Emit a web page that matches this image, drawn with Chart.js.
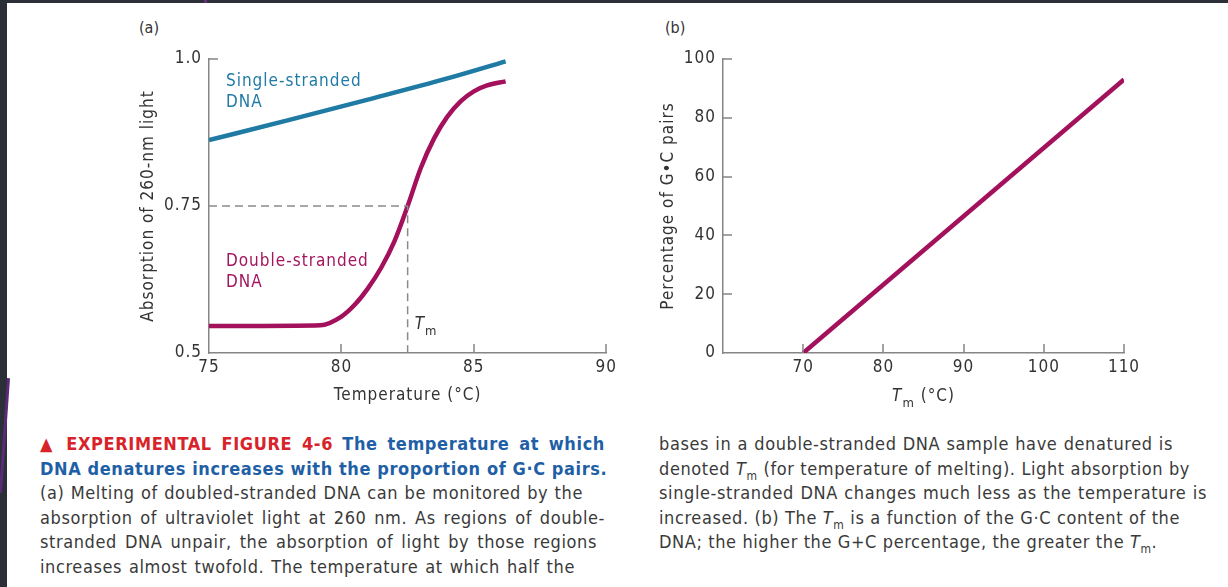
<!DOCTYPE html>
<html>
<head>
<meta charset="utf-8">
<script src="https://cdn.jsdelivr.net/npm/chart.js@4.4.0/dist/chart.umd.min.js"></script>
<style>
  body { margin: 0; width: 1228px; height: 587px; background: #fff; position: relative; overflow: hidden;
         font-family: 'Liberation Sans Narrow', 'DejaVu Sans Condensed', 'Liberation Sans', sans-serif; }
  #topbar { position: absolute; left: 0; top: 0; width: 1228px; height: 3px; background: #2b3038; }
  #topmark { position: absolute; left: 204px; top: 0; width: 3px; height: 3px; background: #6a2a80; }
  #leftbar { position: absolute; left: 0; top: 0; width: 7px; height: 587px; background: #2b3038; }
  #slash { position: absolute; left: 3px; top: 378px; width: 3px; height: 115px; background: #5a2a78; transform: rotate(4deg); }
  #wrapA { position: absolute; left: 0; top: 0; width: 620px; height: 410px; }
  #wrapB { position: absolute; left: 620px; top: 0; width: 608px; height: 410px; }
  .panel { position: absolute; top: 18px; font-size: 16px; color: #333; }
  .cap { position: absolute; font-size: 18px; line-height: 24.5px; color: #3a3a3a; letter-spacing: 0.6px; }
  .cap div { white-space: nowrap; text-align: justify; text-align-last: justify; }
  .red { color: #d8232a; font-weight: bold; }
  .blue { color: #1f5fa6; font-weight: bold; }
  sub { font-size: 12px; line-height: 0; }
</style>
</head>
<body>
<div id="topbar"></div>
<div id="topmark"></div>
<div id="leftbar"></div>
<div id="slash"></div>
<div class="panel" style="left:139px">(a)</div>
<div class="panel" style="left:665px">(b)</div>
<div id="wrapA"><canvas id="chartA" width="620" height="410"></canvas></div>
<div id="wrapB"><canvas id="chartB" width="608" height="410"></canvas></div>

<div class="cap" style="left:40px; top:432px;">
  <div style="width:565px"><span class="red">▲ EXPERIMENTAL FIGURE 4-6</span> <span class="blue">The temperature at which</span></div>
  <div style="width:553px"><span class="blue">DNA denatures increases with the proportion of G·C pairs.</span></div>
  <div style="width:543px">(a) Melting of doubled-stranded DNA can be monitored by the</div>
  <div style="width:565px">absorption of ultraviolet light at 260 nm. As regions of double-</div>
  <div style="width:557px">stranded DNA unpair, the absorption of light by those regions</div>
  <div style="width:535px">increases almost twofold. The temperature at which half the</div>
</div>
<div class="cap" style="left:659px; top:432px;">
  <div style="width:514px">bases in a double-stranded DNA sample have denatured is</div>
  <div style="width:531px">denoted <i>T</i><sub>m</sub> (for temperature of melting). Light absorption by</div>
  <div style="width:548px">single-stranded DNA changes much less as the temperature is</div>
  <div style="width:521px">increased. (b) The <i>T</i><sub>m</sub> is a function of the G·C content of the</div>
  <div style="width:477px">DNA; the higher the G+C percentage, the greater the <i>T</i><sub>m</sub>.</div>
</div>

<script>
// (a) 260nm吸収と温度
const singleTemp = [75, 78, 81, 84, 86.2];
const singleAbs  = [0.862, 0.896, 0.931, 0.967, 0.996];
const doubleTemp = [75, 77, 79.2, 80, 80.5, 81, 81.5, 82, 82.5, 83, 83.5, 84, 84.5, 85, 85.5, 86.2];
const doubleAbs  = [0.546, 0.546, 0.547, 0.562, 0.582, 0.610, 0.645, 0.690, 0.750, 0.815, 0.865, 0.902, 0.928, 0.945, 0.955, 0.962];
const tmValue = 82.5;
const halfAbs = 0.75;
const absTicks = [0.5, 0.75, 1.0];
const absLabels = ['0.5', '0.75', '1.0'];
const tempTicks = [75, 80, 85, 90];

// (b) GC含量とTm
const gcTm = [70, 110];
const gcPercent = [0, 93];
const tmTicks = [70, 80, 90, 100, 110];
const gcTicks = [0, 20, 40, 60, 80, 100];

const FONT = "'Liberation Sans Narrow', 'DejaVu Sans Condensed', 'Liberation Sans', sans-serif";
const AXIS_COLOR = '#858585';
const TEXT_COLOR = '#333';
const BLUE_LINE = '#1f7ba3';
const RED_LINE = '#a3105b';

function pts(xs, ys) {
    return xs.map((x, i) => ({x: x, y: ys[i]}));
}

// 内向きの目盛り線
const insideTicks = {
    id: 'insideTicks',
    afterDatasetsDraw(chart, args, opts) {
        const ctx = chart.ctx, area = chart.chartArea;
        const xs = chart.scales.x, ys = chart.scales.y;
        ctx.save();
        ctx.strokeStyle = AXIS_COLOR;
        ctx.lineWidth = 1.5;
        ctx.beginPath();
        opts.xTicks.forEach(v => {
            const px = Math.round(xs.getPixelForValue(v));
            ctx.moveTo(px, area.bottom);
            ctx.lineTo(px, area.bottom - opts.len);
        });
        opts.yTicks.forEach(v => {
            const py = Math.round(ys.getPixelForValue(v));
            ctx.moveTo(area.left, py);
            ctx.lineTo(area.left + opts.len, py);
        });
        ctx.stroke();
        ctx.restore();
    }
};

// 文字の注記（データ座標に配置）
const notes = {
    id: 'notes',
    beforeDraw(chart) {
        chart.ctx.letterSpacing = '1px';
    },
    afterDatasetsDraw(chart, args, opts) {
        const ctx = chart.ctx;
        const xs = chart.scales.x, ys = chart.scales.y;
        ctx.save();
        ctx.textBaseline = 'middle';
        (opts.items || []).forEach(it => {
            const px = xs.getPixelForValue(it.x), py = ys.getPixelForValue(it.y);
            ctx.fillStyle = it.color;
            ctx.font = '17px ' + FONT;
            it.lines.forEach((t, i) => ctx.fillText(t, px, py + i * 20.5));
        });
        if (opts.tm) {
            const px = xs.getPixelForValue(opts.tm.x) + 7, py = ys.getPixelForValue(opts.tm.y);
            ctx.fillStyle = TEXT_COLOR;
            ctx.font = 'italic 17px ' + FONT;
            ctx.fillText('T', px, py);
            const w = ctx.measureText('T').width;
            ctx.font = '13px ' + FONT;
            ctx.fillText('m', px + w, py + 7);
        }
        if (opts.xTitle) {
            const area = chart.chartArea;
            const cx = (area.left + area.right) / 2, py = opts.xTitle.y;
            ctx.font = 'italic 17px ' + FONT;
            const w1 = ctx.measureText('T').width;
            ctx.font = '13px ' + FONT;
            const w2 = ctx.measureText('m').width;
            ctx.font = '17px ' + FONT;
            const w3 = ctx.measureText(' (°C)').width;
            let x0 = cx - (w1 + w2 + w3) / 2;
            ctx.fillStyle = TEXT_COLOR;
            ctx.font = 'italic 17px ' + FONT;
            ctx.fillText('T', x0, py);
            ctx.font = '13px ' + FONT;
            ctx.fillText('m', x0 + w1, py + 7);
            ctx.font = '17px ' + FONT;
            ctx.fillText(' (°C)', x0 + w1 + w2, py);
        }
        ctx.restore();
    }
};

const tickFont = {family: FONT, size: 17};
const titleFont = {family: FONT, size: 17};

// (a)
new Chart(document.getElementById('chartA').getContext('2d'), {
    type: 'line',
    data: {
        datasets: [
            {
                label: 'Tm',
                data: [{x: 75, y: halfAbs}, {x: tmValue, y: halfAbs}, {x: tmValue, y: 0.5}],
                borderColor: '#8a8a8a',
                borderWidth: 1.5,
                borderDash: [8, 5],
                pointRadius: 0,
                fill: false
            },
            {
                label: 'Single-stranded DNA',
                data: pts(singleTemp, singleAbs),
                borderColor: BLUE_LINE,
                borderWidth: 4.5,
                pointRadius: 0,
                cubicInterpolationMode: 'monotone',
                fill: false
            },
            {
                label: 'Double-stranded DNA',
                data: pts(doubleTemp, doubleAbs),
                borderColor: RED_LINE,
                borderWidth: 4.5,
                pointRadius: 0,
                cubicInterpolationMode: 'monotone',
                fill: false
            }
        ]
    },
    plugins: [insideTicks, notes],
    options: {
        responsive: false,
        animation: false,
        layout: {padding: {left: 128, top: 59, right: 12, bottom: 0}},
        plugins: {
            legend: {display: false},
            tooltip: {enabled: false},
            insideTicks: {xTicks: [80, 85, 90], yTicks: [1.0], len: 9},
            notes: {
                items: [
                    {x: 75.64, y: 0.961, color: '#1f7aa5', lines: ['Single-stranded', 'DNA']},
                    {x: 75.64, y: 0.655, color: '#a3155e', lines: ['Double-stranded', 'DNA']}
                ],
                tm: {x: tmValue, y: 0.548}
            }
        },
        scales: {
            x: {
                type: 'linear',
                min: 75, max: 90,
                afterFit: s => { s.height = 57; },
                afterBuildTicks: s => { s.ticks = tempTicks.map(v => ({value: v})); },
                grid: {display: false, drawTicks: false},
                border: {display: true, color: AXIS_COLOR, width: 1.5},
                ticks: {color: TEXT_COLOR, font: tickFont, padding: 4, maxRotation: 0},
                title: {display: true, text: 'Temperature (°C)', color: TEXT_COLOR, font: titleFont, padding: {top: 0, bottom: 4}}
            },
            y: {
                min: 0.5, max: 1.0,
                afterFit: s => { s.width = 209 - 128; },
                afterBuildTicks: s => { s.ticks = absTicks.map(v => ({value: v})); },
                grid: {display: false, drawTicks: false},
                border: {display: true, color: AXIS_COLOR, width: 1.5},
                ticks: {color: TEXT_COLOR, font: tickFont, padding: 7, callback: v => absLabels[absTicks.indexOf(v)]},
                title: {display: true, text: 'Absorption of 260-nm light', color: TEXT_COLOR, font: titleFont, padding: {top: 10, bottom: 0}}
            }
        }
    }
});

// (b)
new Chart(document.getElementById('chartB').getContext('2d'), {
    type: 'line',
    data: {
        datasets: [{
            label: 'G·C',
            data: pts(gcTm, gcPercent),
            borderColor: RED_LINE,
            borderWidth: 4.5,
            pointRadius: 0,
            fill: false
        }]
    },
    plugins: [insideTicks, notes],
    options: {
        responsive: false,
        animation: false,
        layout: {padding: {left: 28, top: 59, right: 104, bottom: 0}},
        plugins: {
            legend: {display: false},
            tooltip: {enabled: false},
            insideTicks: {xTicks: tmTicks, yTicks: [20, 40, 60, 80, 100], len: 9},
            notes: {xTitle: {y: 397}}
        },
        scales: {
            x: {
                type: 'linear',
                min: 60, max: 110,
                afterFit: s => { s.height = 57; },
                afterBuildTicks: s => { s.ticks = tmTicks.map(v => ({value: v})); },
                grid: {display: false, drawTicks: false},
                border: {display: true, color: AXIS_COLOR, width: 1.5},
                ticks: {color: TEXT_COLOR, font: tickFont, padding: 4, maxRotation: 0}
            },
            y: {
                min: 0, max: 100,
                afterFit: s => { s.width = 103 - 28; },
                afterBuildTicks: s => { s.ticks = gcTicks.map(v => ({value: v})); },
                grid: {display: false, drawTicks: false},
                border: {display: true, color: AXIS_COLOR, width: 1.5},
                ticks: {color: TEXT_COLOR, font: tickFont, padding: 7},
                title: {display: true, text: 'Percentage of G•C pairs', color: TEXT_COLOR, font: titleFont, padding: {top: 10, bottom: 0}}
            }
        }
    }
});
</script>
</body>
</html>
